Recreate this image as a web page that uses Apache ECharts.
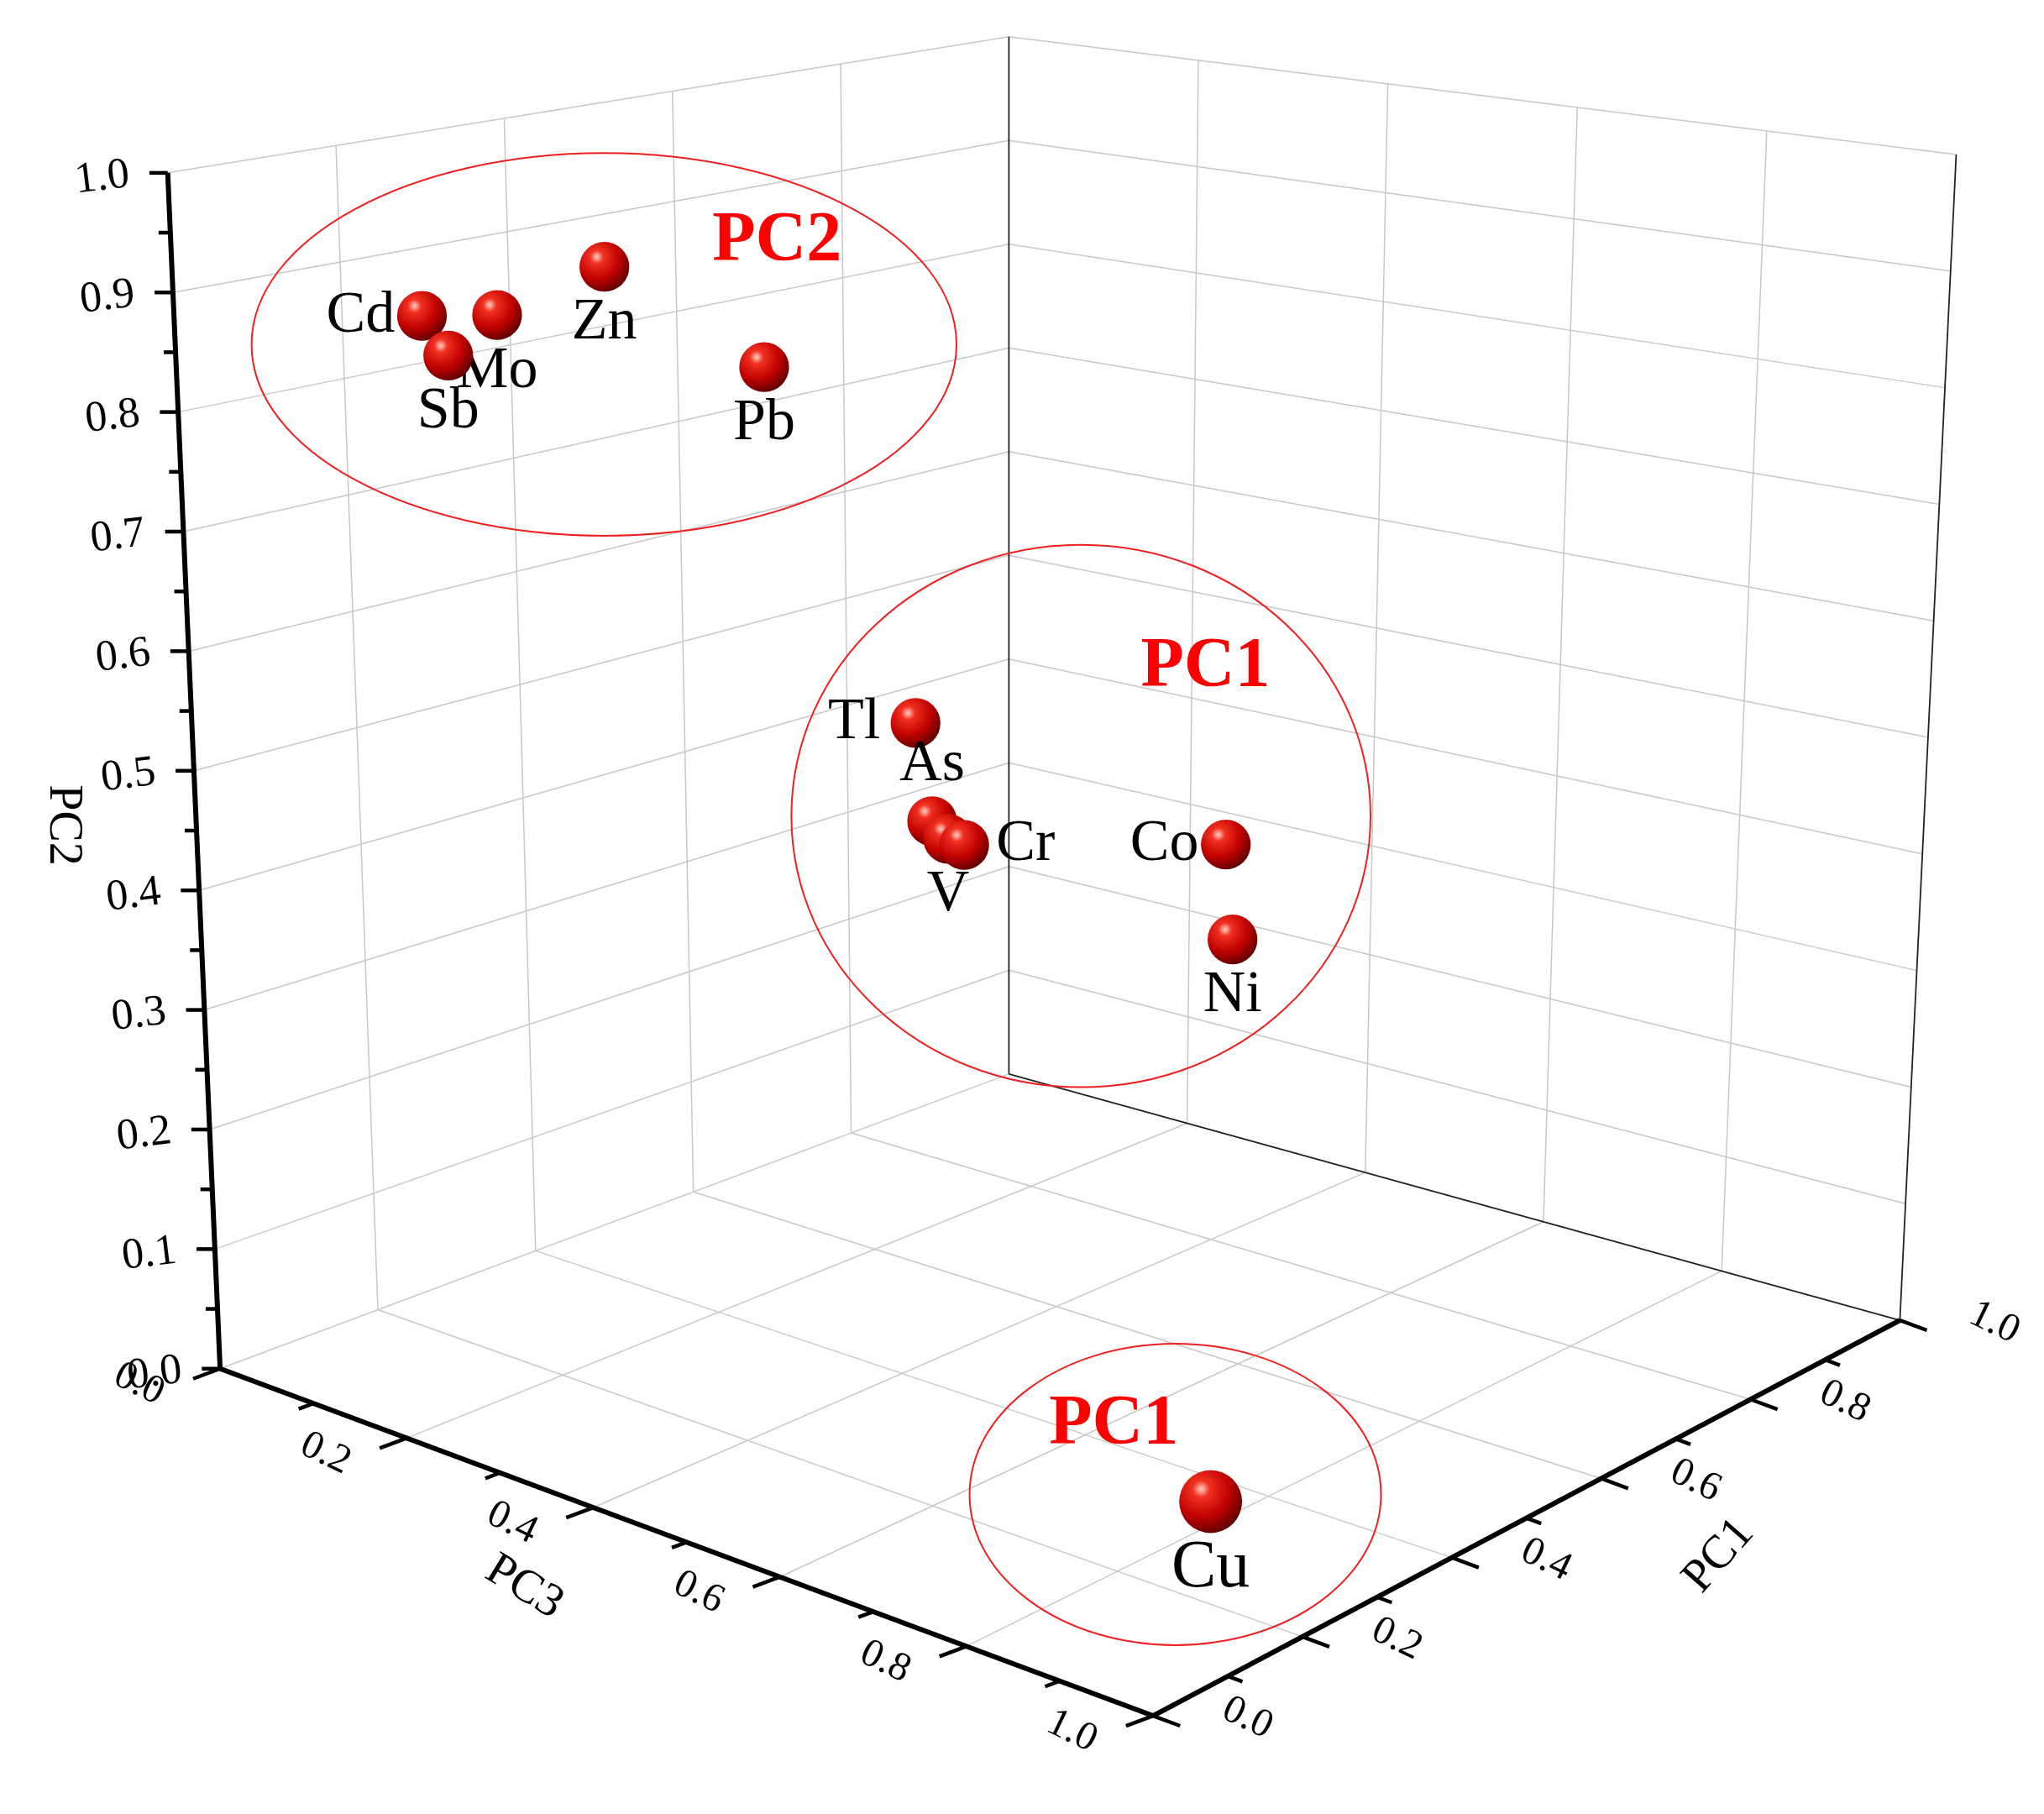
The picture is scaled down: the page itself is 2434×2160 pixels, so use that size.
<!DOCTYPE html>
<html>
<head>
<meta charset="utf-8">
<script src="https://cdn.jsdelivr.net/npm/echarts@6/dist/echarts.min.js"></script>
<style>
  html, body { margin: 0; padding: 0; background: #fff; }
  #main { width: 2434px; height: 2160px; }
</style>
</head>
<body>
<div id="main"></div>
<script>
// loadings
var elements = ['Cd', 'Mo', 'Sb', 'Zn', 'Pb', 'Tl', 'As', 'V', 'Cr', 'Co', 'Ni', 'Cu'];
var pc1Vals = [0.18, 0.27, 0.21, 0.40, 0.59, 0.54, 0.56, 0.58, 0.60, 0.93, 0.94, 0.20];
var pc2Vals = [0.875, 0.863, 0.837, 0.886, 0.768, 0.50, 0.41, 0.39, 0.38, 0.30, 0.21, 0.08];
var pc3Vals = [0.10, 0.10, 0.10, 0.10, 0.10, 0.30, 0.30, 0.30, 0.30, 0.30, 0.30, 0.90];
var labelSide = ['left', 'bottom', 'bottom', 'bottom', 'bottom', 'left', 'top', 'bottom', 'right', 'left', 'bottom', 'bottom'];
var tickLabels = ['0.0', '0.1', '0.2', '0.3', '0.4', '0.5', '0.6', '0.7', '0.8', '0.9', '1.0'];
var floorLabels = ['0.0', '0.2', '0.4', '0.6', '0.8', '1.0'];

var S = 2434 / 1560;
var FONT = '"Liberation Serif", "DejaVu Serif", serif';

// box corners on the drawing plane (floor + top)
var L = [168, 1045], F = [880, 1310], R = [1450, 1008], B = [770, 820];
var HL = [-40, -913], HF = [3, -1011], HR = [43, -890], HB = [0, -792];

function bil(a, b, c, d, u, v) {
    return [
        (1 - u) * (1 - v) * a[0] + u * (1 - v) * b[0] + u * v * c[0] + (1 - u) * v * d[0],
        (1 - u) * (1 - v) * a[1] + u * (1 - v) * b[1] + u * v * c[1] + (1 - u) * v * d[1]
    ];
}
// u = PC3, v = PC1, w = PC2
function proj(u, v, w) {
    var p = bil(L, F, R, B, u, v);
    var h = bil(HL, HF, HR, HB, u, v);
    return [p[0] + w * h[0], p[1] + w * h[1]];
}

function line(api, a, b, color, width) {
    var p = api.coord(a), q = api.coord(b);
    return {
        type: 'line', silent: true,
        shape: { x1: p[0], y1: p[1], x2: q[0], y2: q[1] },
        style: { stroke: color, lineWidth: width }
    };
}
function text(api, pt, str, size, opt) {
    var p = api.coord(pt);
    opt = opt || {};
    return {
        type: 'text', silent: true, x: p[0], y: p[1], rotation: opt.rot || 0,
        style: {
            text: str, fill: opt.color || '#000', font: (opt.weight || 'normal') + ' ' + size + 'px ' + FONT,
            align: 'center', verticalAlign: 'middle'
        }
    };
}

function renderFrame(params, api) {
    var kids = [];
    var grey = '#c8c8c8', i, t;
    // left wall (PC3 = 0)
    for (i = 1; i <= 4; i++) {
        t = i * 0.2;
        kids.push(line(api, proj(0, t, 0), proj(0, t, 1), grey, 1.5));
    }
    // right wall (PC1 = 1)
    for (i = 1; i <= 4; i++) {
        t = i * 0.2;
        kids.push(line(api, proj(t, 1, 0), proj(t, 1, 1), grey, 1.5));
    }
    for (i = 1; i <= 10; i++) {
        t = i * 0.1;
        kids.push(line(api, proj(0, 0, t), proj(0, 1, t), grey, 1.5));
        kids.push(line(api, proj(0, 1, t), proj(1, 1, t), grey, 1.5));
    }
    // floor
    for (i = 1; i <= 4; i++) {
        t = i * 0.2;
        kids.push(line(api, proj(t, 0, 0), proj(t, 1, 0), grey, 1.5));
        kids.push(line(api, proj(0, t, 0), proj(1, t, 0), grey, 1.5));
    }
    kids.push(line(api, proj(0, 0, 0), proj(0, 1, 0), grey, 1.5));
    // dark box edges
    kids.push(line(api, proj(0, 1, 0), proj(1, 1, 0), '#222', 1.8));
    kids.push(line(api, proj(0, 1, 0), proj(0, 1, 1), '#222', 1.8));
    kids.push(line(api, proj(1, 1, 0), proj(1, 1, 1), '#222', 1.8));

    // main axes
    kids.push(line(api, proj(0, 0, 0), proj(0, 0, 1), '#000', 6));
    kids.push(line(api, proj(0, 0, 0), proj(1, 0, 0), '#000', 6));
    kids.push(line(api, proj(1, 0, 0), proj(1, 1, 0), '#000', 6));

    // PC2 ticks
    for (i = 0; i <= 20; i++) {
        t = i * 0.05;
        var p = proj(0, 0, t), len = (i % 2 === 0) ? 14 : 9;
        kids.push(line(api, p, [p[0] - len, p[1]], '#000', 4.5));
        if (i % 2 === 0) {
            kids.push(text(api, [p[0] - 50, p[1] + 4], tickLabels[i / 2], 52, { rot: 0.12 }));
        }
    }
    // PC3 ticks, pointing towards the viewer
    var d3 = [L[0] - B[0], L[1] - B[1]], n3 = Math.sqrt(d3[0] * d3[0] + d3[1] * d3[1]);
    for (i = 0; i <= 10; i++) {
        t = i * 0.1;
        var p3 = proj(t, 0, 0), l3 = (i % 2 === 0) ? 22 : 12;
        kids.push(line(api, p3, [p3[0] + d3[0] / n3 * l3, p3[1] + d3[1] / n3 * l3], '#000', 4.5));
        if (i % 2 === 0) {
            kids.push(text(api, [p3[0] - 62, p3[1] + 12], floorLabels[i / 2], 48, { rot: -0.45 }));
        }
    }
    // PC1 ticks, pointing outwards
    var d1 = [F[0] - L[0], F[1] - L[1]], n1 = Math.sqrt(d1[0] * d1[0] + d1[1] * d1[1]);
    for (i = 0; i <= 10; i++) {
        t = i * 0.1;
        var p1 = proj(1, t, 0), l1 = (i % 2 === 0) ? 22 : 12;
        kids.push(line(api, p1, [p1[0] + d1[0] / n1 * l1, p1[1] + d1[1] / n1 * l1], '#000', 4.5));
        if (i % 2 === 0) {
            kids.push(text(api, [p1[0] + 72, p1[1] + 2], floorLabels[i / 2], 48, { rot: -0.45 }));
        }
    }
    // axis names
    kids.push(text(api, [48, 630], 'PC2', 56, { rot: -Math.PI / 2 }));
    kids.push(text(api, [400, 1212], 'PC3', 56, { rot: -0.55 }));
    kids.push(text(api, [1312, 1188], 'PC1', 56, { rot: 0.85 }));

    // group ellipses
    var ells = [[461, 263, 269, 146], [825, 623, 221, 207], [897, 1141, 157, 115]];
    ells.forEach(function (e) {
        var c = api.coord([e[0], e[1]]);
        kids.push({
            type: 'ellipse', silent: true,
            shape: { cx: c[0], cy: c[1], rx: e[2] * S, ry: e[3] * S },
            style: { fill: 'none', stroke: '#f02020', lineWidth: 2 }
        });
    });
    kids.push(text(api, [593, 185], 'PC2', 84, { color: '#ff0000', weight: 'bold' }));
    kids.push(text(api, [920, 510], 'PC1', 84, { color: '#ff0000', weight: 'bold' }));
    kids.push(text(api, [850, 1088], 'PC1', 84, { color: '#ff0000', weight: 'bold' }));
    return { type: 'group', children: kids };
}

var pointData = elements.map(function (name, i) {
    var p = proj(pc3Vals[i], pc1Vals[i], pc2Vals[i]);
    return [p[0], p[1], i];
});

function renderPoint(params, api) {
    var idx = api.value(2);
    var c = api.coord([api.value(0), api.value(1)]);
    var big = elements[idx] === 'Cu';
    var r = (big ? 24 : 19) * S;
    var off = r + (big ? 34 : 30) * S * 0.8;
    var side = labelSide[idx], dx = 0, dy = 0;
    if (side === 'left') dx = -off - 6; else if (side === 'right') dx = off + 6;
    else if (side === 'top') dy = -off; else dy = off;
    return {
        type: 'group',
        children: [{
            type: 'circle',
            shape: { cx: c[0], cy: c[1], r: r },
            style: {
                fill: new echarts.graphic.RadialGradient(0.35, 0.3, 0.75, [
                    { offset: 0, color: '#ffd0c8' },
                    { offset: 0.18, color: '#f03020' },
                    { offset: 0.6, color: '#c00000' },
                    { offset: 1, color: '#5a0000' }
                ])
            }
        }, {
            type: 'text', x: c[0] + dx, y: c[1] + dy,
            style: {
                text: elements[idx], fill: '#000', font: (big ? 80 : 70) + 'px ' + FONT,
                align: 'center', verticalAlign: 'middle'
            }
        }]
    };
}

var myChart = echarts.init(document.getElementById('main'));
myChart.setOption({
    animation: false,
    backgroundColor: '#fff',
    grid: { left: 0, right: 0, top: 0, bottom: 0 },
    xAxis: { type: 'value', min: 0, max: 1560, show: false },
    yAxis: { type: 'value', min: 0, max: 1385, inverse: true, show: false },
    series: [{
        type: 'custom', renderItem: renderFrame, data: [[0]], silent: true
    }, {
        type: 'custom', renderItem: renderPoint, data: pointData,
        encode: { x: 0, y: 1 }, silent: true
    }]
});
</script>
</body>
</html>
